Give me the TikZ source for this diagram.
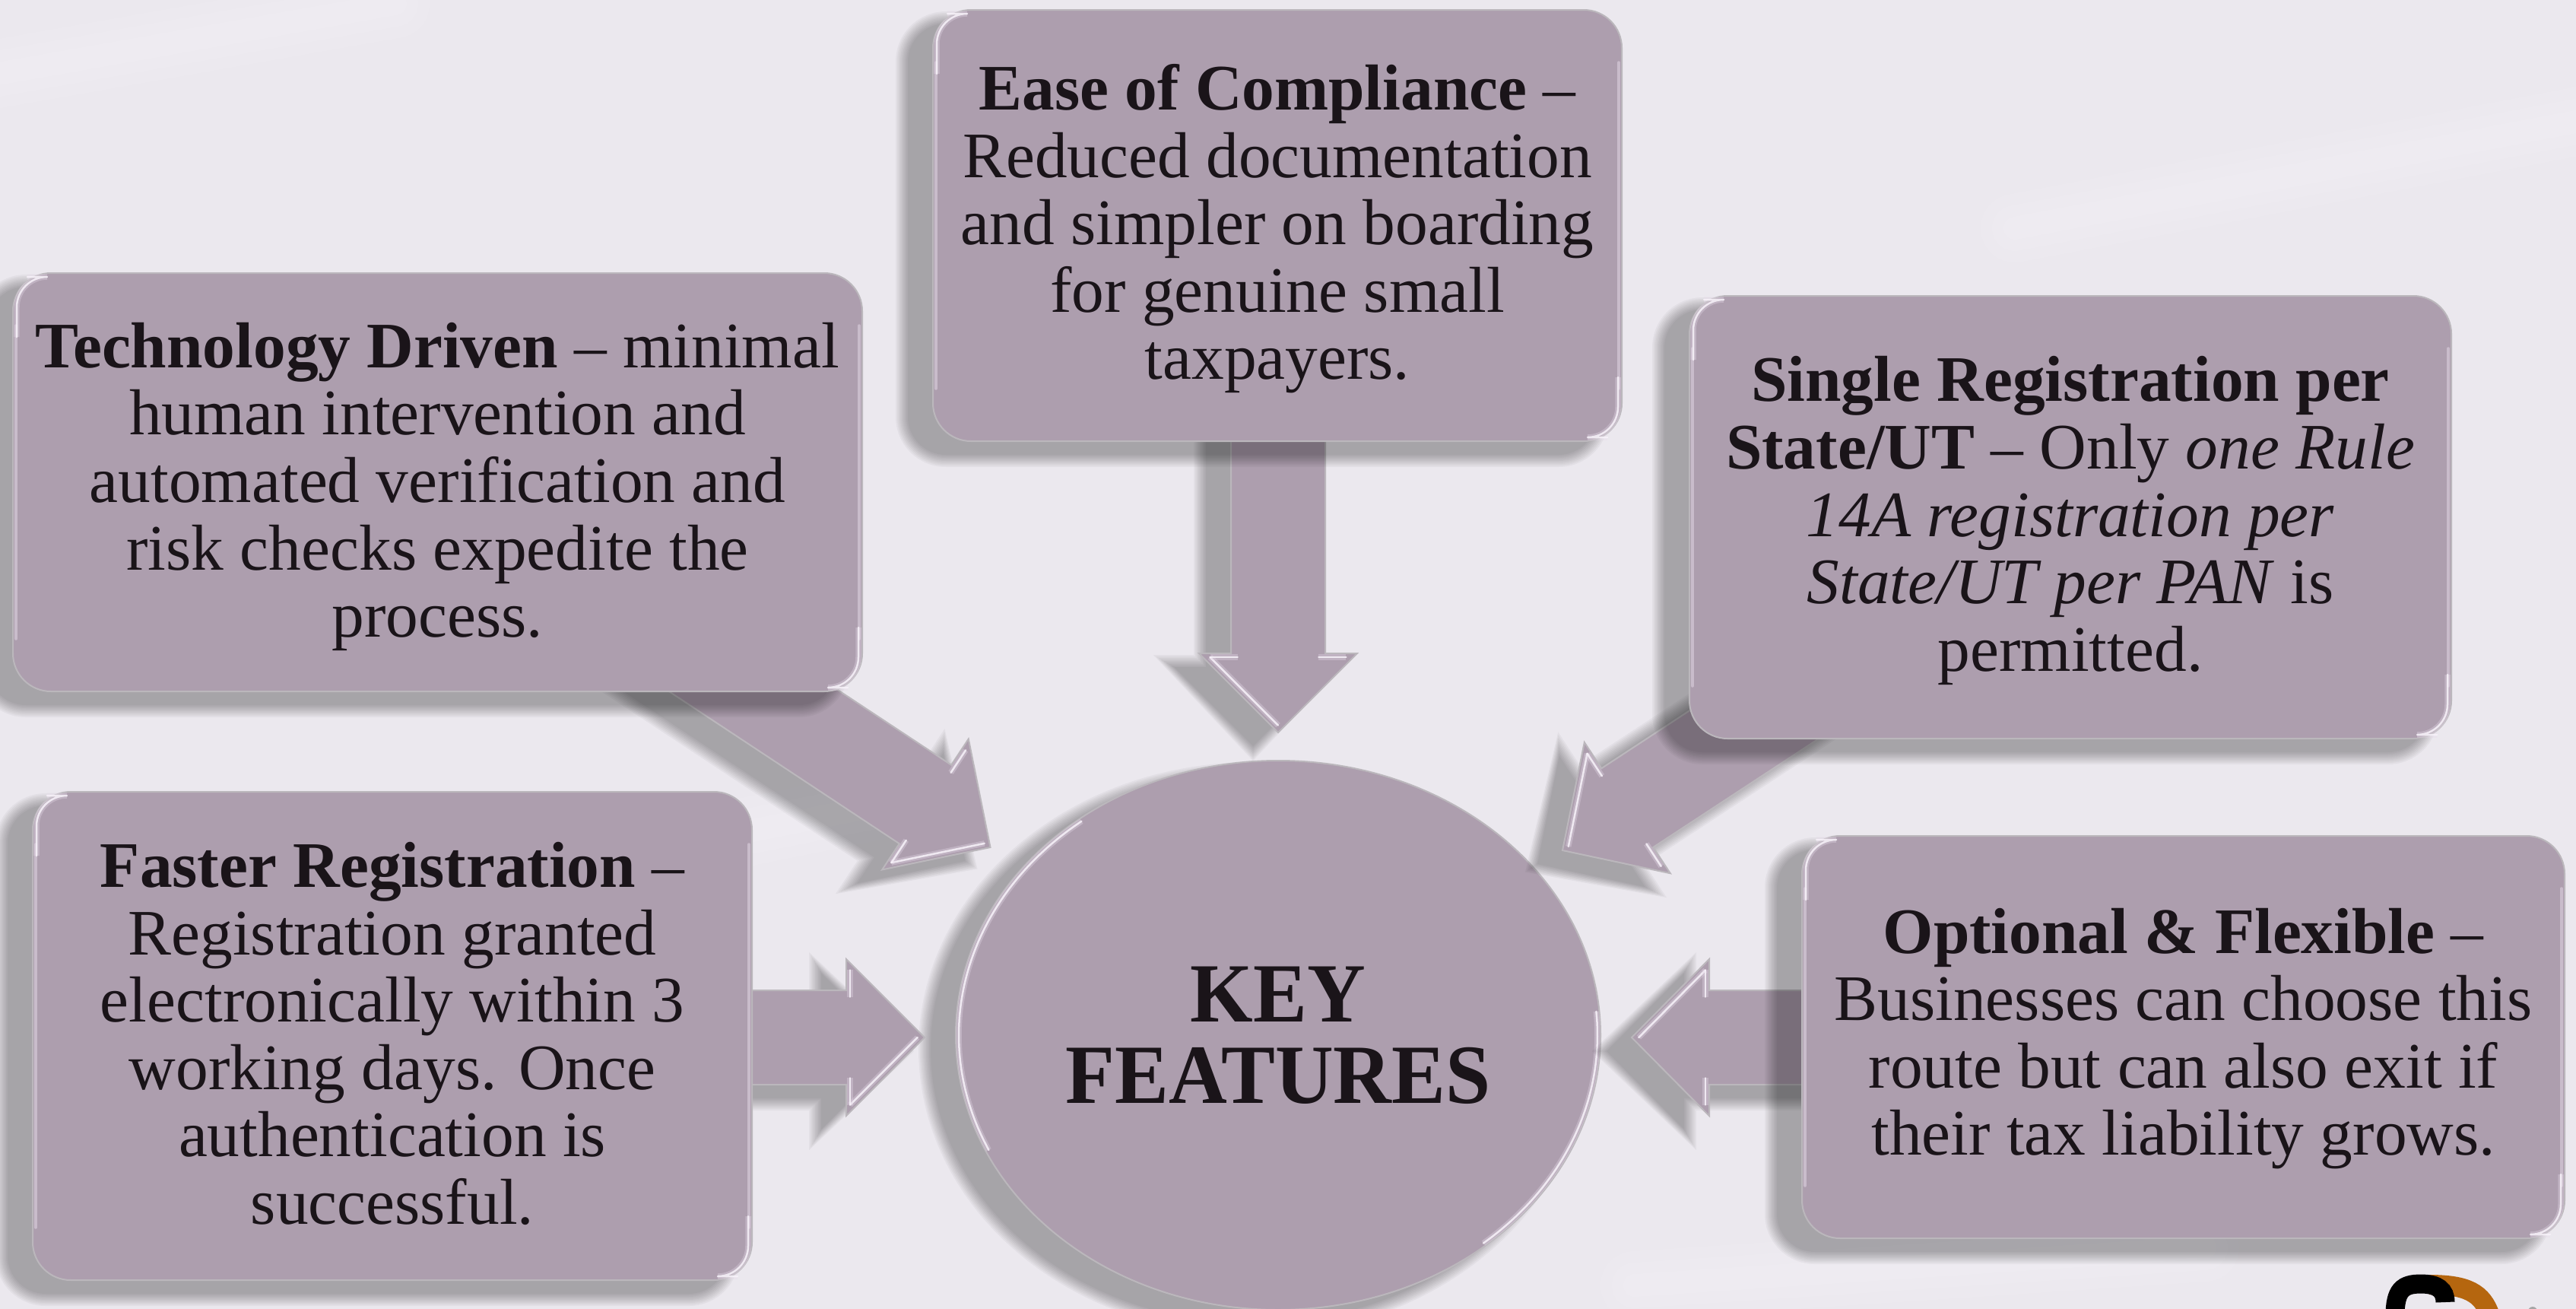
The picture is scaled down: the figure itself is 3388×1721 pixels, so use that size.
\documentclass[tikz,border=0pt]{standalone}
\usepackage{fontspec}
\setmainfont{Liberation Serif}
\newfontfamily\hubfont[FakeStretch=0.96]{Liberation Serif}
\usetikzlibrary{calc,shapes.geometric}
\definecolor{bgc}{HTML}{EBE8EE}
\definecolor{fillc}{HTML}{AD9EAE}
\definecolor{edgec}{HTML}{BBB7BC}
\definecolor{glowc}{HTML}{F8F3FA}
\definecolor{softc}{HTML}{E6DAE9}
\definecolor{inkc}{HTML}{1A1419}
\definecolor{orangec}{HTML}{B5660F}
\tikzset{
  shapebase/.style={fill=fillc,draw=edgec,line width=0.04cm,line join=miter},
  boxnode/.style={shapebase,rectangle,rounded corners=1cm,inner sep=0pt},
  boxtext/.style={inner sep=0pt,align=center,text=inkc,font=\fontsize{48.6}{50.4}\selectfont},
  centernode/.style={shapebase,ellipse,inner sep=0pt,align=center,text=inkc,
     font=\hubfont\fontsize{63}{61}\selectfont\bfseries},
  glow/.style={draw=glowc,line width=0.05cm,line cap=round,line join=round,opacity=0.85,
     preaction={draw=softc,line width=0.15cm,opacity=0.35}},
  softglow/.style={draw=softc,line width=0.07cm,line cap=round,line join=round,opacity=0.5},
  streak/.style={draw=white,line cap=round,opacity=0.08},
  shadowlayer/.style={fill=black,opacity=0.036},
}
\newcommand{\softboxshade}[4]{%
  \foreach \d in {16,14,12,10,8,6,4,2,0}{%
    \begin{scope}[shift={(-33,18)}]
      \fill[shadowlayer,rounded corners=1cm+\d*0.02cm] ({#1-#3/2-\d},{#2-#4/2-\d}) rectangle ({#1+#3/2+\d},{#2+#4/2+\d});
    \end{scope}}%
}
\newcommand{\blockarrow}[6]{%
  \path let \p1=($(#2)-(#3)$),\n1={atan2(\y1,\x1)},\n2={veclen(\x1,\y1)/0.569055} in
     \pgfextra{\xdef\arrang{\n1}\xdef\arrlen{\n2}};
  \coordinate (#1Sh) at ($(#3)+(-33,18)$);
  \foreach \d in {16,14,12,10,8,6,4,2,0}{%
    \begin{scope}[shift={(#1Sh)},rotate=\arrang]
      \fill[shadowlayer] (\arrlen,{#4+\d}) -- ({#6+\d},{#4+\d}) -- ({#6+\d},{#5+1.7*\d}) -- ({-1.2*\d},0)
        -- ({#6+\d},{-#5-1.7*\d}) -- ({#6+\d},{-#4-\d}) -- (\arrlen,{-#4-\d}) -- cycle;
    \end{scope}}%
  \begin{scope}[shift={(#3)},rotate=\arrang]
    \coordinate (#1sP) at (\arrlen,#4);
    \coordinate (#1iP) at (#6,#4);
    \coordinate (#1bP) at (#6,#5);
    \coordinate (#1bM) at (#6,-#5);
    \coordinate (#1iM) at (#6,-#4);
    \coordinate (#1sM) at (\arrlen,-#4);
    \coordinate (#1C) at ({0.65*#6},0);
  \end{scope}
  \path[shapebase] (#1sP) -- (#1iP) -- (#1bP) -- (#3) -- (#1bM) -- (#1iM) -- (#1sM) -- cycle;
  \draw[glow] ($(#1bM)!0.14!(#1C)$) -- ($(#3)!0.14!(#1C)$);
  \draw[glow] ($(#1bM)!0.14!(#1C)$) -- ($(#1iM)!0.14!(#1C)$);
  \draw[glow] ($(#1bP)!0.14!(#1C)$) -- ($(#1iP)!0.14!(#1C)$);
}
\newcommand{\bevelbox}[1]{%
  \draw[softglow] ([shift={(5,70)}]#1.north west) -- ([shift={(5,-70)}]#1.south west);
  \draw[softglow] ([shift={(-5,70)}]#1.north east) -- ([shift={(-5,-70)}]#1.south east);
  \draw[glow,rounded corners=0.8cm] ([shift={(6,85)}]#1.north west) |- ([shift={(20,6)}]#1.north west);
  \draw[glow,rounded corners=0.8cm] ([shift={(-6,-85)}]#1.south east) |- ([shift={(-20,-6)}]#1.south east);
}
\begin{document}
\begin{tikzpicture}[x=0.02cm,y=-0.02cm]
\useasboundingbox (0,0) rectangle (3388,1721);
\clip (0,0) rectangle (3388,1721);
\fill[bgc] (0,0) rectangle (3388,1721);
% faint background streaks
\foreach \w in {90,60,30}{
  \draw[streak,line width=\w*0.02cm] (-20,100) -- (520,5);
  \draw[streak,line width=\w*0.02cm] (700,1150) -- (1150,1060);
  \draw[streak,line width=\w*0.02cm] (2150,1690) -- (2900,1640);
  \draw[streak,line width=\w*0.02cm] (2650,300) -- (3388,160);
}
% logo
\draw[orangec,line width=0.52cm] (3195,1689) .. controls (3245,1689) and (3265,1700) .. (3275,1730);
\draw[black,line width=0.5cm] (3150,1730) .. controls (3150,1696) and (3160,1688) .. (3184,1688) .. controls (3206,1688) and (3216,1696) .. (3216,1712);
\fill[gray!70] (3331,1724) circle (6);
% ellipse
\foreach \d in {16,14,12,10,8,6,4,2,0}{%
  \fill[shadowlayer] (1648,1379) ellipse [x radius=424+\d,y radius=361+\d];}
\node[centernode,minimum width=848*0.02cm,minimum height=722*0.02cm] (hub) at (1681,1361) {KEY\\FEATURES};
\draw[glow] plot[domain=128:205,samples=30,smooth] ({1681+420*cos(\x)},{1361-357*sin(\x)});
\draw[glow] plot[domain=-50:5,samples=30,smooth] ({1681+420*cos(\x)},{1361-357*sin(\x)});
% connector end points
\coordinate (easeOut) at (1681,540);
\coordinate (easeTip) at (1681,963);
\coordinate (techOut) at (900,848);
\coordinate (techTip) at (1302.5,1114);
\coordinate (singleOut) at (2389,899);
\coordinate (singleTip) at (2055,1118);
\coordinate (fastOut) at (950,1364);
\coordinate (fastTip) at (1216,1364);
\coordinate (optOut) at (2410,1364);
\coordinate (optTip) at (2146,1364);
% block arrows
\blockarrow{a}{easeOut}{easeTip}{62}{104}{104}
\blockarrow{b}{techOut}{techTip}{62}{103}{102.5}
\blockarrow{c}{singleOut}{singleTip}{62}{103}{102}
\blockarrow{d}{fastOut}{fastTip}{62}{103}{103}
\blockarrow{e}{optOut}{optTip}{62}{103}{102}
% boxes
\softboxshade{1680}{296.5}{906}{567}
\node[boxnode,minimum width=906*0.02cm,minimum height=567*0.02cm] (ease) at (1680,296.5) {};
\bevelbox{ease}
\node[boxtext] (easetext) at ([yshift=-0.09cm]ease.center)
  {\textbf{Ease of Compliance} –\\Reduced documentation\\and simpler on boarding\\for genuine small\\taxpayers.};
\softboxshade{575.5}{634}{1117}{550}
\node[boxnode,minimum width=1117*0.02cm,minimum height=550*0.02cm] (tech) at (575.5,634) {};
\bevelbox{tech}
\node[boxtext] (techtext) at ([yshift=-0.12cm]tech.center)
  {\textbf{Technology Driven} – minimal\\human intervention and\\automated verification and\\risk checks expedite the\\process.};
\softboxshade{2723}{680}{1002}{582}
\node[boxnode,minimum width=1002*0.02cm,minimum height=582*0.02cm] (single) at (2723,680) {};
\bevelbox{single}
\node[boxtext] (singletext) at ([yshift=-0.09cm]single.center)
  {\textbf{Single Registration per}\\\textbf{State/UT} – Only \textit{one Rule}\\\textit{14A registration per}\\\textit{State/UT per PAN} is\\permitted.};
\softboxshade{516}{1362}{946}{642}
\node[boxnode,minimum width=946*0.02cm,minimum height=642*0.02cm] (fast) at (516,1362) {};
\bevelbox{fast}
\node[boxtext] (fasttext) at ([yshift=0.06cm]fast.center)
  {\textbf{Faster Registration} –\\Registration granted\\electronically within 3\\working days. Once\\authentication is\\successful.};
\softboxshade{2871.5}{1363.5}{1003}{529}
\node[boxnode,minimum width=1003*0.02cm,minimum height=529*0.02cm] (opt) at (2871.5,1363.5) {};
\bevelbox{opt}
\node[boxtext] (opttext) at ([yshift=-0.04cm]opt.center)
  {\textbf{Optional \& Flexible} –\\Businesses can choose this\\route but can also exit if\\their tax liability grows.};
\end{tikzpicture}
\end{document}
